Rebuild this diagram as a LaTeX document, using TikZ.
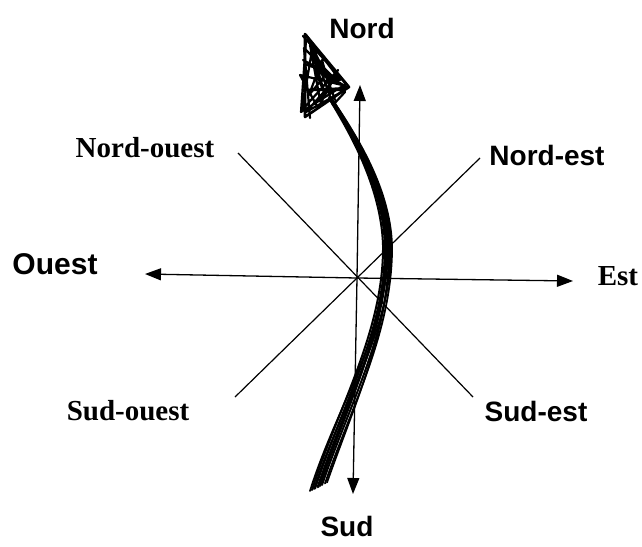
\documentclass[tikz,border=0pt]{standalone}
\usepackage{fontspec}
\setmainfont{Liberation Serif}
\newfontfamily\arialb{Liberation Sans}[BoldFont={* Bold}]
\usetikzlibrary{arrows.meta}
\begin{document}
\begin{tikzpicture}[x=1pt,y=-1pt,
  axis/.style={line width=1.3pt,-{Triangle[length=16pt,width=12pt]}},
  diag/.style={line width=1.2pt},
  sanslbl/.style={font=\arialb\fontsize{28}{30}\selectfont\bfseries,inner sep=0pt},
  seriflbl/.style={font=\fontsize{29}{31}\selectfont\bfseries,inner sep=0pt},
  scrib/.style={line width=1.6pt,line cap=round,line join=round}]
\useasboundingbox (0,0) rectangle (642,546);
\coordinate (c) at (357,278);
\coordinate (n) at (360,85);
\coordinate (s) at (353,494);
\coordinate (w) at (145,274);
\coordinate (e) at (573,281);
\coordinate (ne) at (480,158);
\coordinate (nw) at (238,153);
\coordinate (se) at (473,397);
\coordinate (sw) at (235,397);
\draw[axis] (c) -- (n);
\draw[axis] (c) -- (s);
\draw[axis] (c) -- (w);
\draw[axis] (c) -- (e);
\draw[diag] (ne) -- (sw);
\draw[diag] (nw) -- (se);
\node[sanslbl] (lN) at (362,28) {Nord};
\node[sanslbl] (lNE) at (547,155) {Nord-est};
\node[seriflbl] (lNW) at (145,148) {Nord-ouest};
\node[sanslbl,font=\arialb\fontsize{30}{32}\selectfont\bfseries] (lW) at (55,264) {Ouest};
\node[seriflbl] (lE) at (618,276) {Est};
\node[seriflbl] (lSW) at (128,411) {Sud-ouest};
\node[sanslbl] (lSE) at (536,411) {Sud-est};
\node[sanslbl] (lS) at (347,526) {Sud};
% scribbled S-shaped arrow: shaft
\foreach \dx/\bx/\w in {0/0/2.6,3/4/2,-2/-3/2.2,5/7/1.8,-4/-6/2,2/9/1.8,1/-8/1.8,-1/2/2,4/-4/1.8}{
  \draw[scrib,line width=\w pt] (318+\bx,487-\bx*0.5) .. controls (345+\bx,405) and (388+\dx,330) .. (387+\dx,245)
    .. controls (385+\dx,185) and (350+\dx*0.5,130) .. (330+\dx*0.3,98);
}
% scribbled head
\draw[scrib,line width=2.6pt] (305,34) -- (349,87) -- (305,117) -- cycle;
\draw[scrib,line width=2.2pt] (303,36) -- (346,84) -- (301,112) -- (306,40)
  (306,35) -- (340,80) -- (303,60) -- (348,88) -- (304,90) -- (345,90) -- (306,112)
  -- (330,85) -- (310,45) -- (320,100) -- (338,70) -- (302,110) -- (312,50) -- (325,95)
  -- (315,70) -- (342,85) -- (300,75) -- (318,108) -- (334,78) -- (304,48) -- (310,118)
  (308,40) .. controls (320,60) and (330,85) .. (335,100)
  (312,46) -- (333,105) -- (345,92)
  (307,65) -- (328,72) -- (309,95) -- (322,60) -- (331,92);
\end{tikzpicture}
\end{document}
